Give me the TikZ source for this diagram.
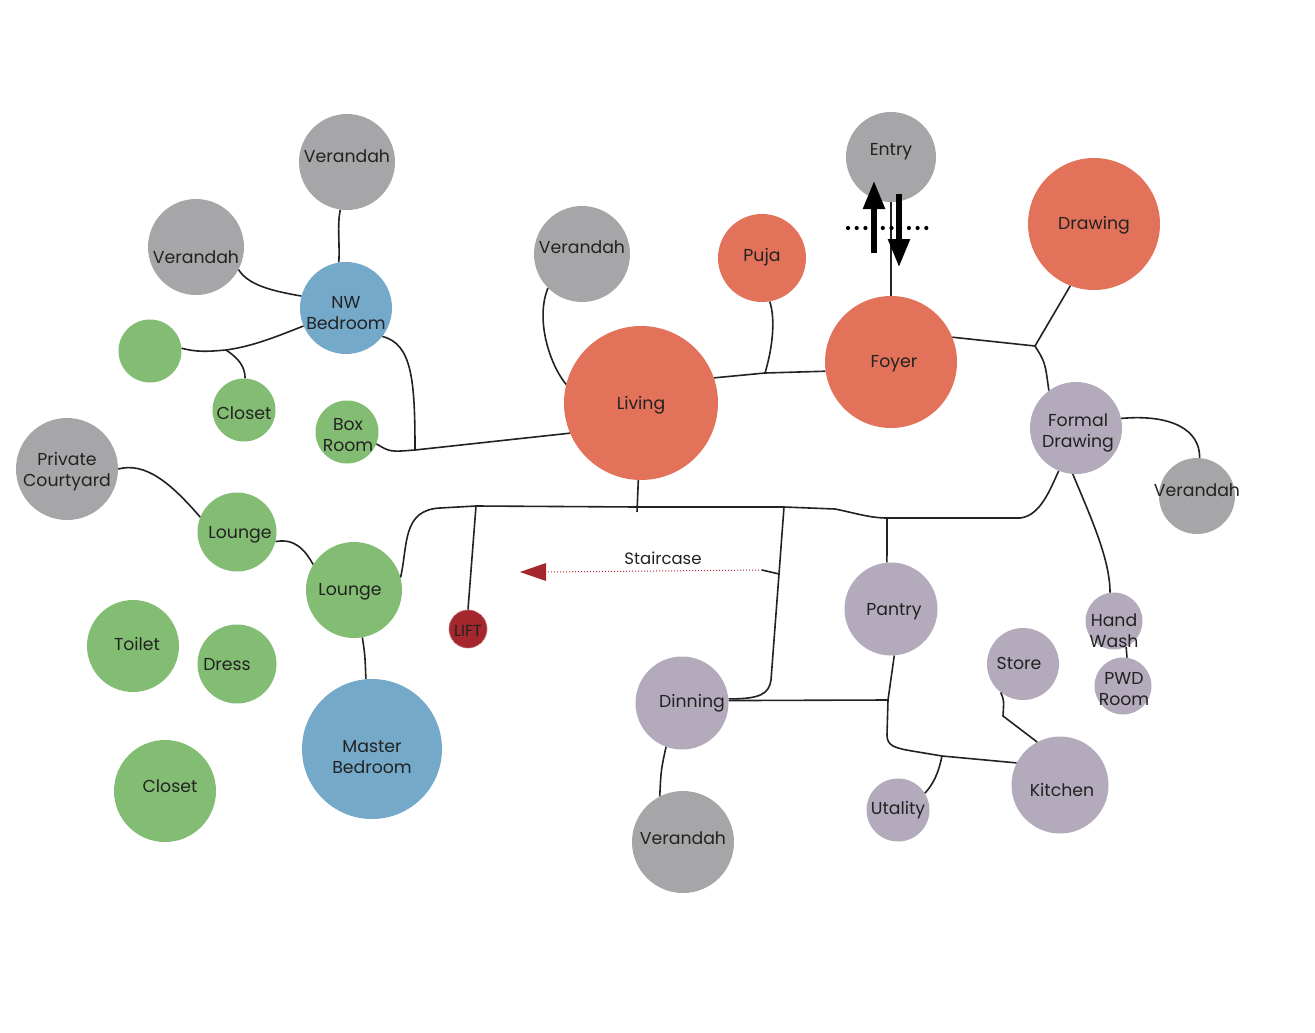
\documentclass[tikz,border=0pt]{standalone}
\usepackage{fontspec}
\setmainfont{Poppins}
\usetikzlibrary{arrows.meta}
\definecolor{cgray}{HTML}{A6A6A9}
\definecolor{corange}{HTML}{E3725A}
\definecolor{cblue}{HTML}{74A9C9}
\definecolor{cgreen}{HTML}{83BD73}
\definecolor{cpurple}{HTML}{B3AABB}
\definecolor{cred}{HTML}{A3272C}
\definecolor{ctext}{HTML}{222222}
\definecolor{cline}{HTML}{222222}
\newcommand\rnode[8]{%
  \node[room, fill=#5, minimum size=#4pt,
    label={[rtext, xshift=#7pt, yshift={(#8-3)*1pt}]center:#6}] (#1) at (#2,#3) {};}
\begin{document}
\begin{tikzpicture}[x=1pt,y=-1pt,
  room/.style={circle, inner sep=0pt, draw=none},
  rtext/.style={font=\fontsize{17.3}{21}\selectfont, text=ctext, align=center, inner sep=0pt},
  link/.style={draw=cline, line width=1.6pt},
  bigarrow/.style={line width=5.5pt, -{Triangle[length=28pt,width=21pt]}},
]
\useasboundingbox (0,0) rectangle (1315,1033);
\fill[white] (0,0) rectangle (1315,1033);

% rooms
\rnode{vt}{347}{162}{96}{cgray}{Verandah}{0}{9}
\rnode{vl}{196}{247}{96}{cgray}{Verandah}{0}{-7}
\rnode{nw}{346}{308}{92}{cblue}{NW\\Bedroom}{0}{-2}
\rnode{gr}{150}{351}{63}{cgreen}{}{0}{0}
\rnode{cls}{244}{410}{63}{cgreen}{Closet}{0}{0}
\rnode{box}{347}{432}{63}{cgreen}{Box\\Room}{1}{0}
\rnode{pc}{67}{469}{102}{cgray}{Private\\Courtyard}{0}{0}
\rnode{lo1}{237}{532}{79}{cgreen}{Lounge}{3}{0}
\rnode{lo2}{354}{590}{96}{cgreen}{Lounge}{-4}{1}
\rnode{toi}{133}{646}{92}{cgreen}{Toilet}{4}{5}
\rnode{dre}{237}{664}{79}{cgreen}{Dress}{-10}{2}
\rnode{clb}{165}{791}{102}{cgreen}{Closet}{5}{8}
\rnode{ms}{372}{749}{140}{cblue}{Master\\Bedroom}{0}{-5}
\node[room, fill=cred, draw=cred!70!white, densely dotted, line width=1pt, minimum size=38pt,
  label={[rtext, font=\fontsize{16}{19}\selectfont, yshift=-2pt]center:LIFT}] (lift) at (468,629) {};
\rnode{vm}{582}{254}{96}{cgray}{Verandah}{0}{10}
\rnode{liv}{641}{403}{154}{corange}{Living}{0}{1}
\rnode{puja}{762}{258}{88}{corange}{Puja}{0}{4}
\rnode{ent}{891}{157}{90}{cgray}{Entry}{0}{8}
\rnode{foy}{891}{362}{132}{corange}{Foyer}{3}{1}
\rnode{dra}{1094}{224}{132}{corange}{Drawing}{0}{2}
\rnode{fd}{1076}{428}{92}{cpurple}{Formal\\Drawing}{2}{-2}
\rnode{vr}{1197}{496}{76}{cgray}{Verandah}{0}{9}
\rnode{hw}{1114}{621}{57}{cpurple}{Hand\\Wash}{0}{-7}
\rnode{pwd}{1123}{686}{57}{cpurple}{PWD\\Room}{1}{0}
\rnode{st}{1023}{664}{72}{cpurple}{Store}{-4}{4}
\rnode{ki}{1060}{785}{97}{cpurple}{Kitchen}{2}{-2}
\rnode{ut}{898}{810}{63}{cpurple}{Utality}{0}{3}
\rnode{pa}{891}{609}{93}{cpurple}{Pantry}{3}{0}
\rnode{dn}{682}{703}{93}{cpurple}{Dinning}{10}{3}
\rnode{vb}{683}{842}{102}{cgray}{Verandah}{0}{7}

% junctions
\coordinate (jg) at (226,350);
\coordinate (jb) at (415,450);
\coordinate (jp) at (765,373);
\coordinate (jf) at (1035,346);
\coordinate (jl) at (637,507);
\coordinate (jl2) at (637,512);
\coordinate (jlift) at (476,506);
\coordinate (jst) at (784,507);
\coordinate (jsc) at (779,574);
\coordinate (stend) at (762,570);
\coordinate (sttip) at (520,572);
\coordinate (jpa) at (887,518);
\coordinate (jdp) at (888,700);
\coordinate (jut) at (942,756);
\coordinate (jsk) at (1003,716);

% connectors
\draw[link] (vt.262) .. controls (337,225) and (340,245) .. (nw.99);
\draw[link] (vl.332) .. controls (248,285) and (272,291) .. (nw.165);
\draw[link] (gr.5) .. controls (200,353) and (212,351) .. (jg) .. controls (255,346) and (280,335) .. (nw.203);
\draw[link] (jg) .. controls (238,358) and (245,366) .. (cls.88);
\draw[link] (nw.322) .. controls (412,344) and (415,380) .. (jb);
\draw[link] (box.338) .. controls (390,452) .. (jb) -- (liv.203);
\draw[link] (vm.225) .. controls (535,320) and (550,365) .. (liv.166);
\draw[link] (liv.19) -- (jp) -- (foy.188);
\draw[link] (puja.280) .. controls (776,320) and (772,350) .. (jp);
\draw[link] (ent.south) -- (foy.north);
\draw[link] (foy.22) -- (jf);
\draw[link] (dra.249) -- (jf) .. controls (1045,362) .. (fd.126);
\draw[link] (fd.12) .. controls (1172,414) and (1200,430) .. (vr.86);
\draw[link] (fd.266) .. controls (1092,520) and (1110,560) .. (hw.98);
\draw[link] (hw.295) -- (pwd.82);
\draw[link] (lo2.15) .. controls (408,545) and (402,510) .. (440,508) -- (jlift) -- (jl) -- (jst)
  -- (835,509) .. controls (855,513) and (870,518) .. (jpa) -- (1020,518) .. controls (1040,516) and (1050,490) .. (fd.248);
\draw[link] (liv.268) -- (jl2);
\draw[link] (jlift) -- (lift.north);
\draw[link] (jst) -- (jsc) -- (771,680) .. controls (769,694) and (760,699) .. (dn.5);
\draw[link] (jsc) -- (stend);
\draw[cred, line width=1pt, dotted] (stend) -- (545,572);
\fill[cred] (sttip) -- (546,563) -- (546,581) -- cycle;
\node[rtext, font=\fontsize{16.5}{19}\selectfont] (stlabel) at (663,558) {Staircase};
\draw[link] (dn.3) -- (jdp);
\draw[link] (jpa) -- (pa.95);
\draw[link] (pa.274) -- (jdp) -- (887,735) .. controls (887,746) and (895,748) .. (912,751) -- (jut) -- (ki.153);
\draw[link] (ut.32) .. controls (937,780) and (940,765) .. (jut);
\draw[link] (st.232) .. controls (1004,700) .. (jsk) -- (ki.118);
\draw[link] (lo1.346) .. controls (295,538) and (305,550) .. (lo2.148);
\draw[link] (pc.0) .. controls (145,462) and (170,482) .. (lo1.158);
\draw[link] (lo2.280) .. controls (365,655) .. (ms.95);
\draw[link] (dn.250) .. controls (661,770) .. (vb.117);

% entry arrows
\coordinate (upa) at (874,253);
\coordinate (upb) at (874,181);
\coordinate (dna) at (899,194);
\coordinate (dnb) at (899,267);
\draw[bigarrow] (upa) -- (upb);
\draw[bigarrow] (dna) -- (dnb);
\draw[line width=4.2pt, line cap=round, dash pattern=on 0pt off 8.7pt] (848,228) -- (930,228);
\end{tikzpicture}
\end{document}
